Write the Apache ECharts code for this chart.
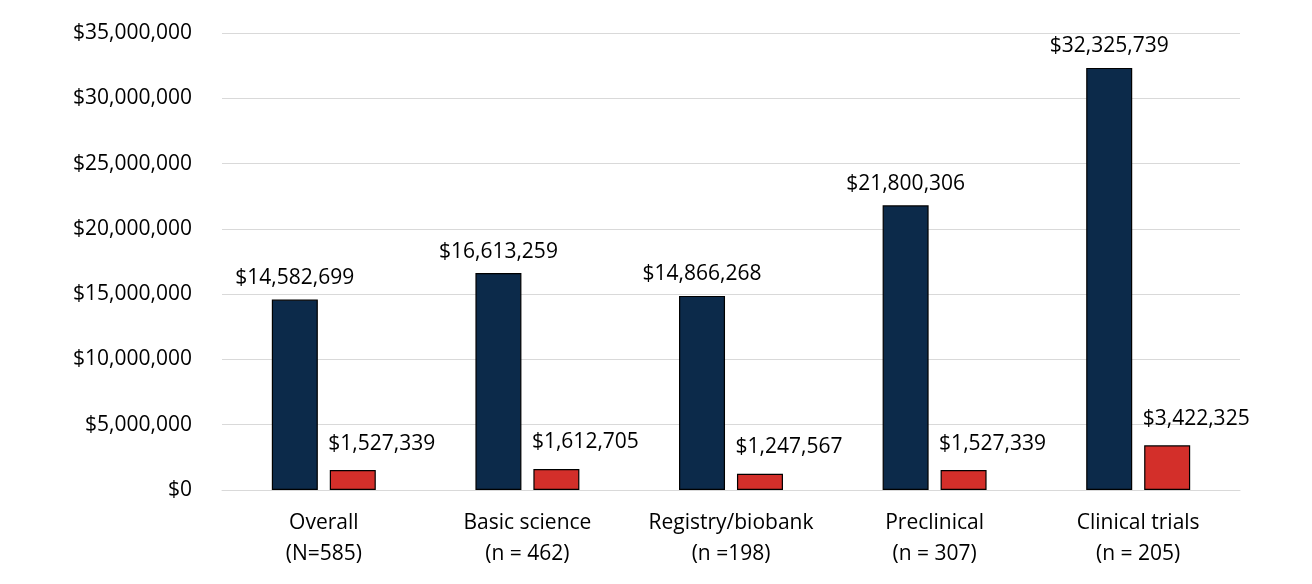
<!DOCTYPE html>
<html>
<head>
<meta charset="utf-8">
<script src="https://cdn.jsdelivr.net/npm/echarts@6/dist/echarts.min.js"></script>
<style>
html,body{margin:0;padding:0;background:#fff;}
#c{width:1312px;height:584px;}
</style>
</head>
<body>
<div id="c"></div>
<script>
const categories = ["Overall\n(N=585)", "Basic science\n(n = 462)", "Registry/biobank\n(n =198)", "Preclinical\n(n = 307)", "Clinical trials\n(n = 205)"];
const seriesA = [14582699, 16613259, 14866268, 21800306, 32325739];
const seriesB = [1527339, 1612705, 1247567, 1527339, 3422325];
const yTicks = [0, 5000000, 10000000, 15000000, 20000000, 25000000, 30000000, 35000000];

const fmt = v => "$" + Math.round(v).toLocaleString("en-US");
const font = "'Open Sans', 'Noto Sans', sans-serif";
const fs = 21;

const chart = echarts.init(document.getElementById('c'));
chart.setOption({
  animation: false,
  textStyle: { fontFamily: font },
  grid: { left: 222, right: 72, top: 33, bottom: 94 },
  xAxis: {
    type: 'category',
    data: categories,
    axisTick: { show: false },
    axisLine: { lineStyle: { color: '#d9d9d9', width: 1 } },
    axisLabel: { interval: 0, hideOverlap: false, color: '#000', fontSize: 21, lineHeight: 31, margin: 18, fontFamily: font }
  },
  yAxis: {
    type: 'value',
    min: yTicks[0],
    max: yTicks[yTicks.length - 1],
    interval: 5000000,
    axisLine: { show: false },
    axisTick: { show: false },
    splitLine: { lineStyle: { color: '#d9d9d9', width: 1 } },
    axisLabel: { color: '#000', fontSize: fs, margin: 30, formatter: fmt, fontFamily: font }
  },
  series: [
    {
      type: 'bar',
      data: seriesA,
      barWidth: 46,
      barGap: '26%',
      itemStyle: { color: '#0c2a4a', borderColor: '#000', borderWidth: 1.2 },
      label: { show: true, position: 'top', distance: 11, color: '#000', fontSize: fs, formatter: p => fmt(p.value), fontFamily: font }
    },
    {
      type: 'bar',
      data: seriesB,
      barWidth: 46,
      itemStyle: { color: '#d32f2a', borderColor: '#000', borderWidth: 1.2 },
      label: { show: true, position: 'top', distance: 11, offset: [29, -5], color: '#000', fontSize: fs, formatter: p => fmt(p.value), fontFamily: font }
    }
  ]
});
</script>
</body>
</html>
